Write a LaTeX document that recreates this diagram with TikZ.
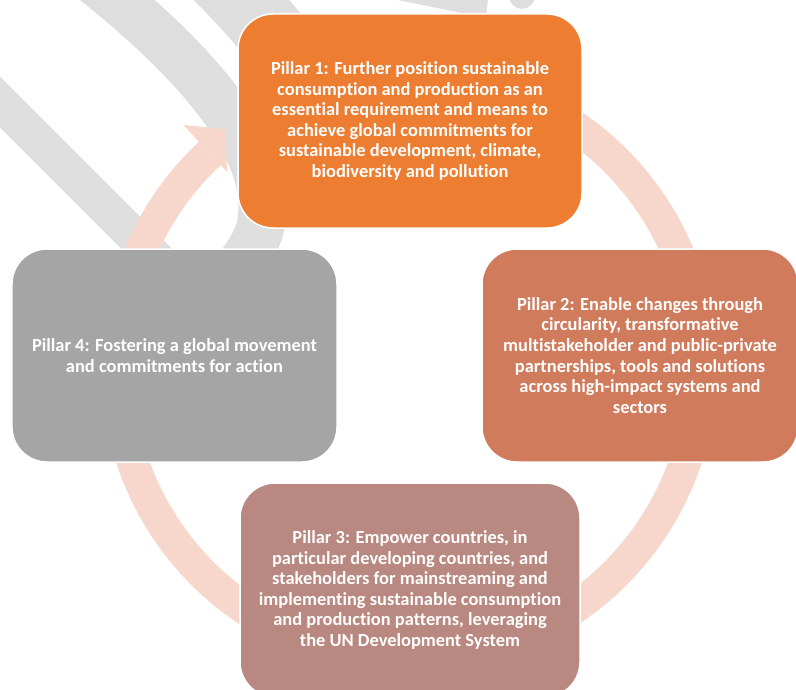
\documentclass[tikz,border=0pt]{standalone}
\usepackage{fontspec}
\setmainfont{Carlito}[Ligatures=NoCommon]
\usetikzlibrary{calc}

\definecolor{pillarone}{HTML}{ED7D31}
\definecolor{pillartwo}{HTML}{D17B5D}
\definecolor{pillarthree}{HTML}{B98880}
\definecolor{pillarfour}{HTML}{A5A5A5}
\definecolor{ringpink}{HTML}{F7D7CC}
\definecolor{markgrey}{HTML}{DEDEDE}

\begin{document}
\begin{tikzpicture}[x=1bp, y=-1bp,
    pillar/.style={draw=white, line width=1.5bp, rounded corners=35bp, minimum height=214bp,
        text=white, align=center, font=\bfseries\fontsize{18.5}{20.7}\selectfont},
    ring/.style={ringpink, line width=32bp},
    greymark/.style={markgrey}]
    \useasboundingbox (0,0) rectangle (796,690);
    \clip (0,0) rectangle (796,690);

    % grey marks behind
    \draw[greymark, line width=36bp] (-30,72) -- (220,322);
    \draw[greymark, line width=48bp] (40,-60) .. controls (180,40) and (270,140) .. (262,215)
        .. controls (262,240) and (240,270) .. (200,310);
    \draw[greymark, line width=70bp] (150,-90) .. controls (260,10) and (330,90) .. (360,190);
    \fill[greymark] (393,-1) -- (488,-1) -- (486,16) -- (476,16) -- cycle;
    \fill[greymark] (522,-4) circle (13);

    % ring
    \coordinate (c) at (409,367);
    \draw[ring] (c) ++(-100:292) arc[start angle=-100, end angle=227, radius=292];
    \coordinate (tip) at ($(c)+(232.4:300)$);
    \fill[ringpink] (tip) -- ($(c)+(227:331)$) -- ($(c)+(227:267)$) -- cycle;

    % pillars
    \node[pillar, fill=pillarone, minimum width=344bp] (p1) at (410,121)
        {Pillar 1: Further position sustainable\\consumption and production as an\\essential requirement and means to\\achieve global commitments for\\sustainable development, climate,\\biodiversity and pollution};
    \node[pillar, fill=pillartwo, minimum width=316bp, minimum height=213bp] (p2) at (640,355.5)
        {Pillar 2: Enable changes through\\circularity, transformative\\multistakeholder and public-private\\partnerships, tools and solutions\\across high-impact systems and\\sectors};
    \node[pillar, fill=pillarthree, minimum width=340bp] (p3) at (410,590)
        {Pillar 3: Empower countries, in\\particular developing countries, and\\stakeholders for mainstreaming and\\implementing sustainable consumption\\and production patterns, leveraging\\the UN Development System};
    \node[pillar, fill=pillarfour, minimum width=325bp, minimum height=213bp] (p4) at (174.5,355.5)
        {Pillar 4: Fostering a global movement\\and commitments for action};
\end{tikzpicture}
\end{document}
